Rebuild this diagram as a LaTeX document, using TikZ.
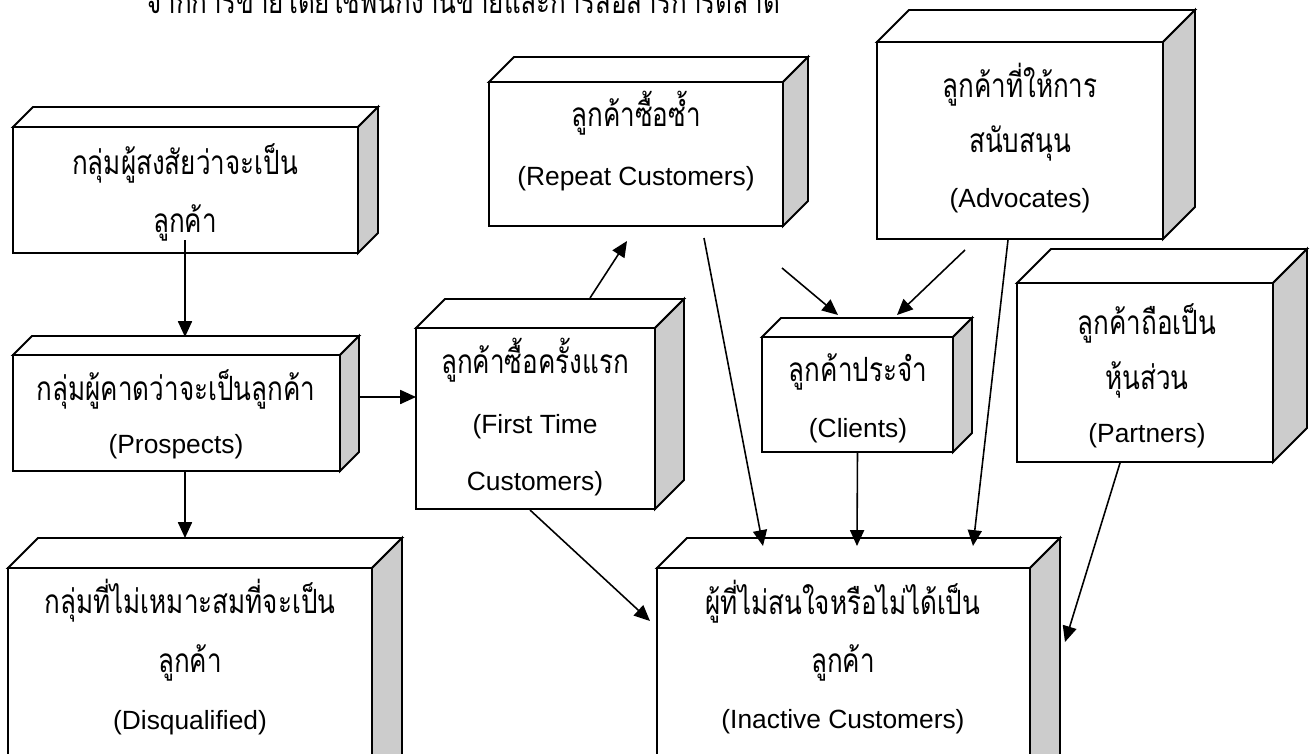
\documentclass[tikz,border=0pt]{standalone}
\usepackage{fontspec}
\setmainfont{Liberation Sans}
\newfontfamily\thfont[Script=Thai,FakeStretch=0.78]{Loma}
\usetikzlibrary{arrows.meta,fit}
\tikzset{
  boxline/.style={line width=1.1pt, draw=black},
  sideface/.style={boxline, fill=black!20},
  topface/.style={boxline, fill=white},
  arr/.style={line width=0.9pt, -{Triangle[length=9pt,width=8pt]}},
  thtxt/.style={anchor=base, inner sep=0pt, font=\fontsize{19}{22}\selectfont\thfont},
  entxt/.style={anchor=base, inner sep=0pt, font=\fontsize{15}{18}\selectfont},
}
% #1 name, #2 x1, #3 y1, #4 x2, #5 y2, #6 depth (pixel units)
\newcommand\cubebox[6]{%
  \filldraw[topface] (#2,#3) -- ({#2+#6},{#3-#6}) -- ({#4+#6},{#3-#6}) -- (#4,#3) -- cycle;
  \filldraw[sideface] (#4,#3) -- ({#4+#6},{#3-#6}) -- ({#4+#6},{#5-#6}) -- (#4,#5) -- cycle;
  \coordinate (#1-nw) at (#2,#3);
  \coordinate (#1-se) at (#4,#5);
  \node[boxline, fill=white, inner sep=0pt, fit=(#1-nw)(#1-se)] (#1) {};
}
\begin{document}
\begin{tikzpicture}[x=0.02cm, y=-0.02cm]
\clip (0,0) rectangle (1313,754);
\fill[white] (0,0) rectangle (1313,754);

% title (clipped at top, as in the reference)
\node[thtxt, anchor=base west] (title) at (146,13) {จากการขายโดยใช้พนักงานขายและการสื่อสารการตลาด};

% boxes
\cubebox{suspect}{13}{127}{358}{253}{20}
\cubebox{prospects}{13}{355}{340}{471}{19}
\cubebox{disq}{8}{568}{372}{800}{30}
\cubebox{repeat}{489}{82}{783}{226}{25}
\cubebox{advocates}{877}{42}{1163}{239}{32}
\cubebox{firsttime}{416}{328}{655}{509}{29}
\cubebox{clients}{762}{337}{953}{452}{19}
\cubebox{partners}{1017}{283}{1273}{462}{34}
\cubebox{inactive}{657}{568}{1030}{800}{30}

% texts
\node[thtxt] (t-sus1) at (185,174) {กลุ่มผู้สงสัยว่าจะเป็น};
\node[thtxt] (t-sus2) at (185,232) {ลูกค้า};

\node[thtxt] (t-pro1) at (176,400) {กลุ่มผู้คาดว่าจะเป็นลูกค้า};
\node[entxt] (t-pro2) at (176,453) {(Prospects)};

\node[thtxt] (t-dis1) at (190,613) {กลุ่มที่ไม่เหมาะสมที่จะเป็น};
\node[thtxt] (t-dis2) at (190,672) {ลูกค้า};
\node[entxt] (t-dis3) at (190,729) {(Disqualified)};

\node[thtxt] (t-rep1) at (636,126) {ลูกค้าซื้อซ้ำ};
\node[entxt] (t-rep2) at (636,185) {(Repeat Customers)};

\node[thtxt] (t-adv1) at (1020,97) {ลูกค้าที่ให้การ};
\node[thtxt] (t-adv2) at (1020,152) {สนับสนุน};
\node[entxt] (t-adv3) at (1020,207) {(Advocates)};

\node[thtxt] (t-fir1) at (535,373) {ลูกค้าซื้อครั้งแรก};
\node[entxt] (t-fir2) at (535,433) {(First Time};
\node[entxt] (t-fir3) at (535,490) {Customers)};

\node[thtxt] (t-cli1) at (858,381) {ลูกค้าประจำ};
\node[entxt] (t-cli2) at (858,437) {(Clients)};

\node[thtxt] (t-par1) at (1147,334) {ลูกค้าถือเป็น};
\node[thtxt] (t-par2) at (1147,389) {หุ้นส่วน};
\node[entxt] (t-par3) at (1147,442) {(Partners)};

\node[thtxt] (t-ina1) at (843,614) {ผู้ที่ไม่สนใจหรือไม่ได้เป็น};
\node[thtxt] (t-ina2) at (843,672) {ลูกค้า};
\node[entxt] (t-ina3) at (843,728) {(Inactive Customers)};

% connector end points
\coordinate (sus-out) at (185,240);
\coordinate (pro-in) at (185,337);
\coordinate (pro-out-d) at (185,471);
\coordinate (dis-in) at (185,538);
\coordinate (pro-out-r) at (358,397);
\coordinate (fir-in) at (416,397);
\coordinate (fir-out-u) at (590,298);
\coordinate (rep-in) at (627,241);
\coordinate (fir-out-d) at (530,510);
\coordinate (ina-in-1) at (650,621);
\coordinate (rep-out-1) at (704,238);
\coordinate (ina-in-2) at (763,546);
\coordinate (rep-out-2) at (782,268);
\coordinate (cli-in-1) at (838,315);
\coordinate (adv-out-1) at (965,250);
\coordinate (cli-in-2) at (897,315);
\coordinate (adv-out-2) at (1008,240);
\coordinate (ina-in-4) at (973,546);
\coordinate (ina-in-3) at (857,546);
\coordinate (par-out) at (1120,463);
\coordinate (ina-in-5) at (1065,642);

% connectors
\draw[arr] (sus-out) -- (pro-in);
\draw[arr] (pro-out-d) -- (dis-in);
\draw[arr] (pro-out-r) -- (fir-in);
\draw[arr] (fir-out-u) -- (rep-in);
\draw[arr] (fir-out-d) -- (ina-in-1);
\draw[arr] (rep-out-1) -- (ina-in-2);
\draw[arr] (rep-out-2) -- (cli-in-1);
\draw[arr] (adv-out-1) -- (cli-in-2);
\draw[arr] (adv-out-2) -- (ina-in-4);
\draw[arr] (clients.south) -- (ina-in-3);
\draw[arr] (par-out) -- (ina-in-5);
\end{tikzpicture}
\end{document}
